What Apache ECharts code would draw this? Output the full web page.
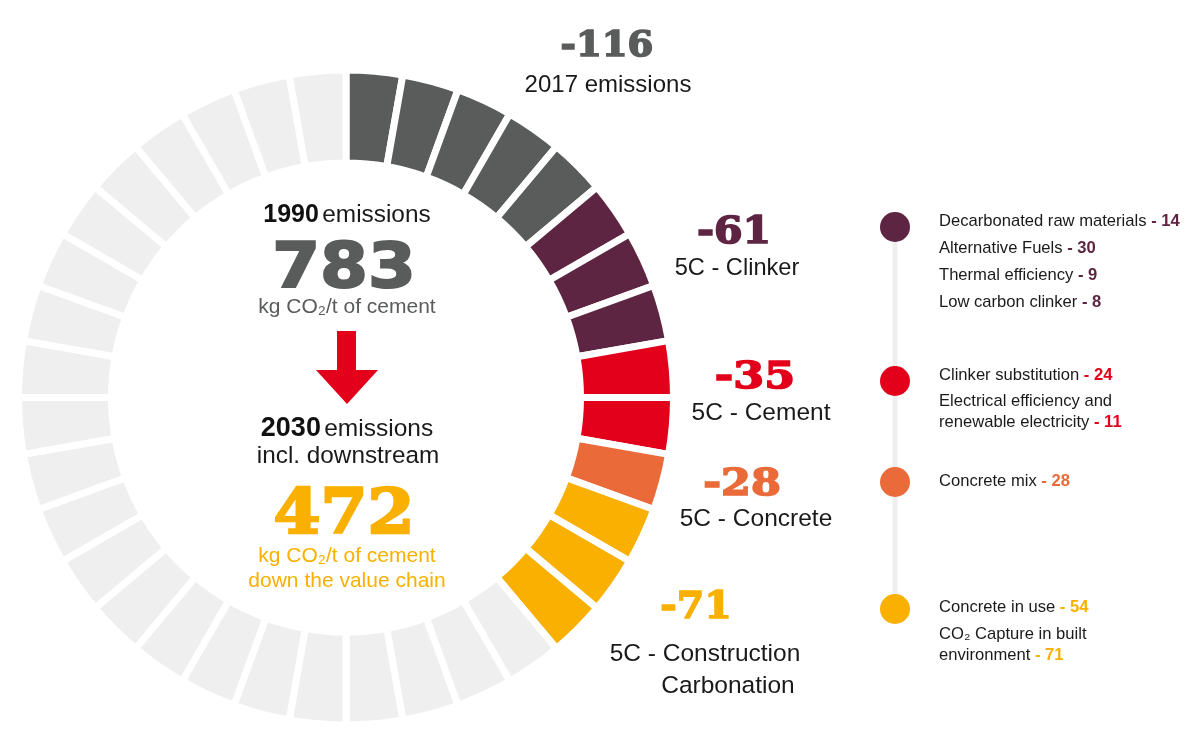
<!DOCTYPE html>
<html>
<head>
<meta charset="utf-8">
<title>Cement emissions</title>
<script src="https://cdn.jsdelivr.net/npm/echarts@6/dist/echarts.min.js"></script>
<style>
html, body { margin: 0; padding: 0; background: #fff; }
#main { width: 1200px; height: 753px; }
</style>
</head>
<body>
<div id="main"></div>
<script>
// one block on the ring per segment, clockwise from 12 o'clock
var groupNames = ['2017 emissions', '5C - Clinker', '5C - Cement', '5C - Concrete', '5C - Construction'];
var groupTotals = [-116, -61, -35, -28, -71];
var groupBlocks = [5, 3, 2, 1, 3];
var remainingBlocks = 22;
var startValue = 783;
var endValue = 472;

var clinkerItems = [['Decarbonated raw materials', 14], ['Alternative Fuels', 30], ['Thermal efficiency', 9], ['Low carbon clinker', 8]];
var cementItems = [['Clinker substitution', 24], ['renewable electricity', 11]];
var concreteItems = [['Concrete mix', 28]];
var carbonationItems = [['Concrete in use', 54], ['environment', 71]];

var GREY = '#5a5c5c', PURPLE = '#5e2542', RED = '#e2001a', ORANGE = '#ea6b39', YELLOW = '#f9b000', LIGHT = '#efeff0', INK = '#1a1a1c';
var groupColors = [GREY, PURPLE, RED, ORANGE, YELLOW];
var SANS = '"Liberation Sans", Arial, sans-serif';
var SLAB = '"DejaVu Serif", serif';
var HEAVY = '"DejaVu Sans", sans-serif';

var blocks = [];
groupBlocks.forEach(function (n, g) {
    for (var i = 0; i < n; i++) {
        blocks.push({ value: 1, itemStyle: { color: groupColors[g] } });
    }
});
for (var i = 0; i < remainingBlocks; i++) {
    blocks.push({ value: 1, itemStyle: { color: LIGHT } });
}

function txt(text, x, y, size, color, weight, family, align) {
    return {
        type: 'text', x: x, y: y, silent: true,
        style: {
            text: text, fill: color, align: align || 'center', verticalAlign: 'middle',
            font: (weight || 'normal') + ' ' + size + 'px ' + (family || SANS)
        }
    };
}

// big numbers: thickened with a stroke and stretched to the reference width
function big(text, x, y, size, color, family, scaleX, strokeW) {
    var el = txt(text, x, y, size, color, 'bold', family);
    el.scaleX = scaleX;
    el.style.stroke = color;
    el.style.lineWidth = strokeW;
    return el;
}

// left aligned legend row, value in bold group colour
function row(item, y, color) {
    return {
        type: 'text', x: 939, y: y + 1.5, silent: true,
        style: {
            text: '{t|' + item[0] + '}{v| - ' + item[1] + '}',
            align: 'left', verticalAlign: 'middle',
            rich: {
                t: { font: 'normal 16.6px ' + SANS, fill: INK },
                v: { font: 'bold 16.6px ' + SANS, fill: color }
            }
        }
    };
}

function dot(y, color) {
    return { type: 'circle', silent: true, shape: { cx: 895, cy: y, r: 15 }, style: { fill: color } };
}

var graphics = [
    { type: 'rect', silent: true, shape: { x: 892.5, y: 227, width: 5, height: 382 }, style: { fill: '#eeeeef' } },
    dot(227, PURPLE), dot(381, RED), dot(482, ORANGE), dot(609, YELLOW),
    { type: 'polygon', silent: true, shape: { points: [[337, 331], [356, 331], [356, 370], [378, 370], [347, 404], [316, 370], [337, 370]] }, style: { fill: RED } },

    big(String(groupTotals[0]), 607, 47, 36, GREY, SLAB, 1.03, 1.6),
    txt(groupNames[0], 608, 85, 24, INK),
    big(String(groupTotals[1]), 734, 233, 38, PURPLE, SLAB, 1.08, 1.6),
    txt(groupNames[1], 737, 268, 23.6, INK),
    big(String(groupTotals[2]), 755, 378, 38, RED, SLAB, 1.17, 1.6),
    txt(groupNames[2], 761, 413, 24.5, INK),
    big(String(groupTotals[3]), 742, 485, 38, ORANGE, SLAB, 1.13, 1.6),
    txt(groupNames[3], 756, 519, 24.5, INK),
    big(String(groupTotals[4]), 696, 608, 38, YELLOW, SLAB, 1.04, 1.6),
    txt(groupNames[4], 705, 654, 24.5, INK),
    txt('Carbonation', 728, 686, 24.5, INK),

    {
        type: 'text', x: 347, y: 215, silent: true,
        style: {
            text: '{b|1990} {n|emissions}', align: 'center', verticalAlign: 'middle',
            rich: { b: { font: 'bold 25px ' + SANS, fill: '#111' }, n: { font: 'normal 24.4px ' + SANS, fill: INK } }
        }
    },
    big(String(startValue), 344, 270.5, 62, GREY, HEAVY, 1.11, 2),
    txt('kg CO\u2082/t of cement', 347, 307, 21, GREY),
    {
        type: 'text', x: 347, y: 429, silent: true,
        style: {
            text: '{b|2030} {n|emissions}', align: 'center', verticalAlign: 'middle',
            rich: { b: { font: 'bold 27px ' + SANS, fill: '#111' }, n: { font: 'normal 24.5px ' + SANS, fill: INK } }
        }
    },
    txt('incl. downstream', 348, 456, 24.3, INK),
    big(String(endValue), 344, 517, 62, YELLOW, SLAB, 1.09, 2.4),
    txt('kg CO\u2082/t of cement', 347, 556, 21, YELLOW),
    txt('down the value chain', 347, 581, 21, YELLOW),

    row(clinkerItems[0], 220, PURPLE),
    row(clinkerItems[1], 247, PURPLE),
    row(clinkerItems[2], 274, PURPLE),
    row(clinkerItems[3], 301, PURPLE),
    row(cementItems[0], 374, RED),
    txt('Electrical efficiency and', 939, 401, 16.6, INK, 'normal', SANS, 'left'),
    row(cementItems[1], 421, RED),
    row(concreteItems[0], 480, ORANGE),
    row(carbonationItems[0], 606, YELLOW),
    txt('CO\u2082 Capture in built', 939, 634, 16.6, INK, 'normal', SANS, 'left'),
    row(carbonationItems[1], 654, YELLOW)
];

var myChart = echarts.init(document.getElementById('main'), null, { renderer: 'canvas' });
myChart.setOption({
    animation: false,
    backgroundColor: '#ffffff',
    series: [{
        type: 'pie',
        silent: true,
        center: [346, 397.5],
        radius: [234.5, 327.5],  // white border eats 3.5px off each edge of a block
        startAngle: 90,
        label: { show: false },
        labelLine: { show: false },
        itemStyle: { borderColor: '#ffffff', borderWidth: 7 },
        data: blocks
    }],
    graphic: graphics
});
</script>
</body>
</html>
